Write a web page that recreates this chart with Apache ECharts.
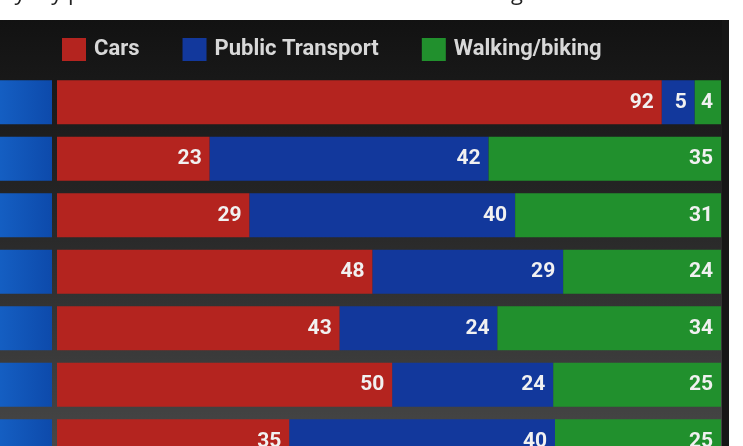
<!DOCTYPE html>
<html>
<head>
<meta charset="utf-8">
<script src="https://cdn.jsdelivr.net/npm/echarts@6/dist/echarts.min.js"></script>
<style>
  html, body { margin: 0; padding: 0; background: #fff; }
  #chart { width: 743px; height: 446px; }
</style>
</head>
<body>
<div id="chart"></div>
<script>
// rows from top to bottom (category names are cropped off in the reference)
const categories = ['Row 1', 'Row 2', 'Row 3', 'Row 4', 'Row 5', 'Row 6', 'Row 7'];
const cars = [92, 23, 29, 48, 43, 50, 35];
const publicTransport = [5, 42, 40, 29, 24, 24, 40];
const walkingBiking = [4, 35, 31, 24, 34, 25, 25];

const COLORS = { cars: '#b4241f', pt: '#12389c', walk: '#21902d' };

// each row is drawn as a share of its own total, labels keep the raw numbers
const totals = categories.map((c, i) => cars[i] + publicTransport[i] + walkingBiking[i]);
const share = arr => arr.map((v, i) => v / totals[i] * 100);

const chart = echarts.init(document.getElementById('chart'));

const labelStyle = raw => ({
  show: true,
  position: 'insideRight',
  distance: 8,
  color: '#f1f1f1',
  fontFamily: 'Roboto',
  fontWeight: 'bold',
  fontSize: 21,
  formatter: p => raw[p.dataIndex]
});

const GRID_TOP = 74, GRID_H = 395.5;

chart.setOption({
  backgroundColor: '#ffffff',
  animation: false,
  graphic: [
    {
      type: 'rect', silent: true, z: -10,
      shape: { x: 0, y: 20, width: 729, height: 426 },
      style: {
        fill: new echarts.graphic.LinearGradient(0, 0, 0, 1, [
          { offset: 0, color: '#121212' },
          { offset: 0.45, color: '#262626' },
          { offset: 1, color: '#474747' }
        ])
      }
    },
    {
      type: 'rect', silent: true, z: -9,
      shape: { x: 722, y: 20, width: 7, height: 426 },
      style: { fill: '#161616' }
    },
    {
      type: 'text', silent: true,
      style: {
        x: -30, y: -17, text: 'Everyday p', fill: '#222',
        font: '22px "Open Sans"'
      }
    },
    {
      type: 'text', silent: true,
      style: {
        x: 440, y: -17, text: 'thinking', fill: '#222',
        font: '22px "Open Sans"'
      }
    }
  ],
  legend: {
    top: 33,
    left: 57,
    itemWidth: 24,
    itemHeight: 23,
    itemGap: 43,
    icon: 'rect',
    textStyle: {
      color: '#d8d8d8', fontFamily: 'Roboto', fontWeight: 'bold',
      fontSize: 22, padding: [0, 0, 0, 3]
    },
    data: ['Cars', 'Public Transport', 'Walking/biking']
  },
  grid: [
    { left: 57, right: 22, top: GRID_TOP, height: GRID_H, outerBoundsMode: 'none' },
    { left: -40, width: 92, top: GRID_TOP, height: GRID_H, outerBoundsMode: 'none' }
  ],
  xAxis: [
    { type: 'value', gridIndex: 0, min: 0, max: 100, show: false },
    { type: 'value', gridIndex: 1, min: 0, max: 1, show: false }
  ],
  yAxis: [
    { type: 'category', gridIndex: 0, data: categories, inverse: true, show: false },
    { type: 'category', gridIndex: 1, data: categories, inverse: true, show: false }
  ],
  series: [
    {
      name: 'Cars', type: 'bar', stack: 'mode', barWidth: 44,
      itemStyle: { color: COLORS.cars },
      label: labelStyle(cars),
      data: share(cars)
    },
    {
      name: 'Public Transport', type: 'bar', stack: 'mode', barWidth: 44,
      itemStyle: { color: COLORS.pt },
      label: labelStyle(publicTransport),
      data: share(publicTransport)
    },
    {
      name: 'Walking/biking', type: 'bar', stack: 'mode', barWidth: 44,
      itemStyle: { color: COLORS.walk },
      label: labelStyle(walkingBiking),
      data: share(walkingBiking)
    },
    {
      // blue boxes holding the (cropped) category names
      name: 'labels', type: 'bar', xAxisIndex: 1, yAxisIndex: 1, barWidth: 44,
      silent: true,
      itemStyle: {
        color: new echarts.graphic.LinearGradient(0, 0, 1, 0, [
          { offset: 0, color: '#1a6ed4' },
          { offset: 1, color: '#0d4aab' }
        ])
      },
      data: categories.map(() => 1)
    }
  ]
});
</script>
</body>
</html>
